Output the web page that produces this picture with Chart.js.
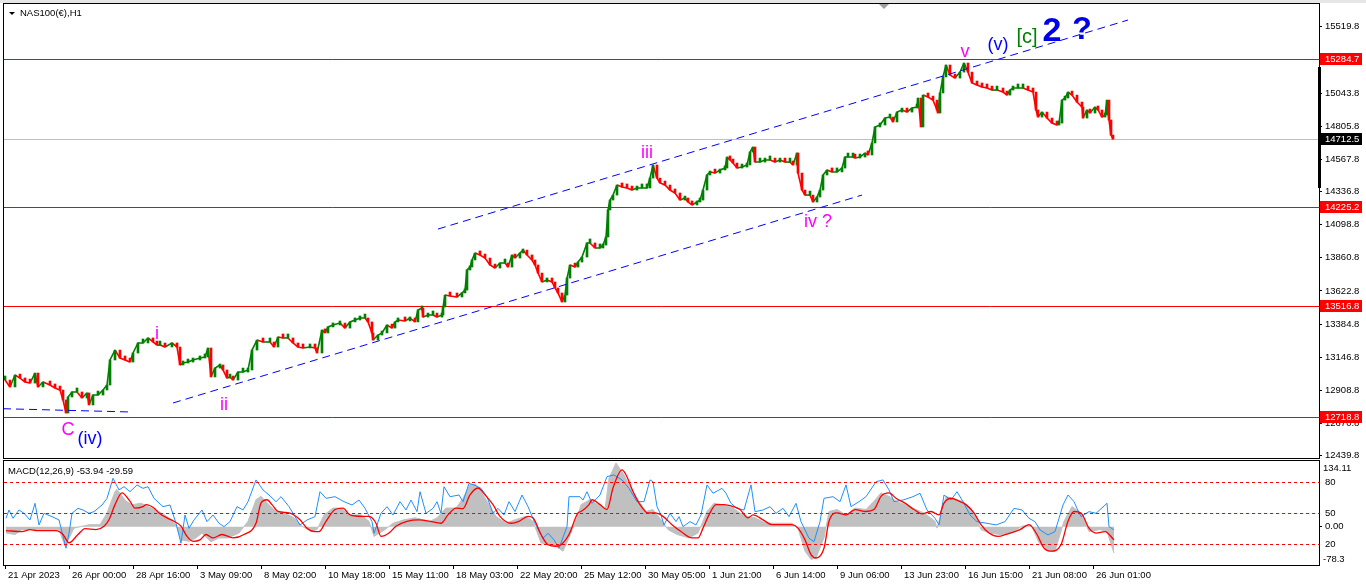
<!DOCTYPE html>
<html>
<head>
<meta charset="utf-8">
<script src="https://cdn.jsdelivr.net/npm/chart.js@4.4.0/dist/chart.umd.min.js"></script>
<style>
  html, body { margin: 0; padding: 0; background: #fff; }
  body { width: 1366px; height: 588px; position: relative; overflow: hidden; }
  #strip { position: absolute; left: 0; top: 0; width: 1366px; height: 3px; background: #e6e6e6; }
  #main { position: absolute; left: 0; top: 0; }
  #macd { position: absolute; left: 0; top: 458px; }
</style>
</head>
<body>
<div id="strip"></div>
<canvas id="main" width="1366" height="460" style="width:1366px;height:460px"></canvas>
<canvas id="macd" width="1366" height="130" style="width:1366px;height:130px"></canvas>
<script>
// H1 bars (bar index from 21 Apr 2023, close price)
const candleBars = [
  0, 5, 10, 15, 20, 25, 30, 33, 38, 45,
  50, 55, 58, 61, 63, 67, 72, 77, 82, 84,
  88, 93, 98, 102, 105, 110, 115, 120, 125, 128,
  133, 138, 143, 148, 152, 155, 160, 167, 172, 175,
  178, 183, 188, 195, 200, 203, 206, 210, 215, 218,
  222, 225, 228, 233, 238, 243, 247, 252, 258, 265,
  269, 273, 278, 283, 288, 293, 298, 305, 310, 312,
  317, 320, 323, 328, 335, 340, 345, 350, 355, 360,
  363, 367, 368, 373, 377, 382, 387, 390, 393, 400,
  405, 410, 413, 417, 418, 423, 428, 432, 437, 438,
  440, 445, 452, 457, 460, 462, 465, 467, 470, 475,
  480, 485, 490, 495, 500, 503, 507, 510, 515, 518,
  522, 527, 530, 533, 537, 542, 547, 550, 553, 557,
  560, 562, 565, 570, 573, 577, 582, 585, 590, 595,
  598, 601, 603, 605, 608, 612, 617, 622, 627, 632,
  637, 642, 645, 648, 652, 655, 660, 665, 670, 675,
  680, 683, 687, 692, 695, 698, 702, 705, 710, 715,
  720, 722, 725, 728, 732, 737, 742, 745, 748, 750,
  755, 760, 765, 770, 775, 780, 785, 788, 792, 793,
  797, 800, 805, 808, 812, 815, 818, 822, 827, 832,
  837, 840, 843, 848, 850, 855, 860, 863, 867, 870,
  875, 880, 885, 888, 892, 897, 902, 907, 912, 913,
  916, 918, 923, 928, 932, 933, 935, 938, 941, 945,
  950, 955, 959, 963, 967, 972, 977, 982, 987, 992,
  998, 1002, 1005, 1008, 1013, 1018, 1023, 1028, 1031, 1033,
  1037, 1042, 1047, 1052, 1054, 1057, 1060, 1063, 1067, 1072,
  1077, 1078, 1082, 1085, 1090, 1093, 1097, 1100, 1102, 1104,
  1106, 1108
];
const candleCloses = [
  12983, 12933, 13019, 12997, 12969, 12961, 13033, 12933, 12969, 12947,
  12926, 12911, 12840, 12746, 12861, 12897, 12897, 12854, 12890, 12804,
  12875, 12875, 12911, 12947, 13127, 13198, 13141, 13127, 13112, 13177,
  13249, 13249, 13285, 13256, 13234, 13234, 13220, 13249, 13220, 13091,
  13105, 13112, 13127, 13141, 13148, 13213, 13005, 13069, 13091, 13055,
  12997, 13005, 12983, 13040, 13040, 13055, 13198, 13270, 13256, 13256,
  13220, 13292, 13285, 13285, 13249, 13220, 13213, 13220, 13213, 13177,
  13342, 13321, 13364, 13378, 13392, 13356, 13400, 13414, 13428, 13428,
  13400, 13321, 13270, 13306, 13321, 13378, 13356, 13400, 13414, 13407,
  13428, 13400, 13486, 13500, 13435, 13450, 13450, 13435, 13450, 13507,
  13593, 13586, 13579, 13608, 13629, 13773, 13794, 13845, 13895, 13881,
  13859, 13809, 13787, 13823, 13823, 13794, 13881, 13859, 13895, 13916,
  13881, 13845, 13809, 13751, 13687, 13701, 13687, 13644, 13608, 13543,
  13593, 13715, 13809, 13794, 13830, 13866, 13967, 13967, 13931, 13931,
  13952, 14010, 14204, 14275, 14311, 14383, 14369, 14362, 14347, 14362,
  14362, 14362, 14433, 14527, 14433, 14398, 14383, 14347, 14326, 14275,
  14290, 14261, 14240, 14261, 14275, 14347, 14455, 14477, 14469, 14491,
  14505, 14584, 14563, 14541, 14505, 14512, 14527, 14620, 14656, 14548,
  14548, 14563, 14563, 14548, 14563, 14548, 14548, 14527, 14613, 14469,
  14347, 14311, 14311, 14261, 14297, 14347, 14455, 14491, 14477, 14477,
  14505, 14584, 14584, 14584, 14577, 14584, 14613, 14599, 14685, 14800,
  14814, 14864, 14871, 14836, 14907, 14922, 14907, 14936, 14943, 15008,
  14800, 15029, 15015, 14993, 14922, 14900, 15044, 15159, 15245, 15173,
  15151, 15194, 15259, 15194, 15116, 15101, 15087, 15080, 15065, 15065,
  15051, 15029, 15065, 15080, 15080, 15080, 15065, 15051, 14922, 14871,
  14907, 14864, 14828, 14814, 14828, 14993, 15008, 15051, 15029, 14979,
  14943, 14864, 14922, 14900, 14943, 14922, 14871, 14886, 14993, 14850,
  14742, 14712.5
];

const priceTicks = [12439.8, 12670.8, 12908.8, 13146.8, 13384.8, 13622.8, 13860.8,
  14098.8, 14336.8, 14567.8, 14805.8, 15043.8, 15519.8];
const redLevels = [15284.7, 14225.2, 13516.8, 12718.8];
const bidPrice = 14712.5;

// dashed channel lines [bar, price]
const trendA = [[-2, 12777], [128, 12753]];
const trendB = [[168, 12818], [857, 14311]];
const trendC = [[433, 14067], [1123, 15568]];

const dateBars = [0, 64, 128, 192, 256, 320, 384, 448, 512, 576, 640, 704, 768, 832, 896, 960, 1024, 1088];
const dateLabels = ['21 Apr 2023', '26 Apr 00:00', '28 Apr 16:00', '3 May 09:00', '8 May 02:00',
  '10 May 18:00', '15 May 11:00', '18 May 03:00', '22 May 20:00', '25 May 12:00', '30 May 05:00',
  '1 Jun 21:00', '6 Jun 14:00', '9 Jun 06:00', '13 Jun 23:00', '16 Jun 15:00', '21 Jun 08:00', '26 Jun 01:00'];

// MACD main (grey histogram) [bar, value]
const macdMainPts = [
  [1,-13],[10,-16],[17,-6],[54,-6],[60,-40],[69,-3],[84,4],[95,4],[102,28],[110,72],
  [112,76],[121,52],[128,45],[136,48],[143,41],[154,31],[164,18],[171,4],[176,-27],[184,-30],
  [191,-23],[197,-13],[206,-31],[214,-23],[223,-23],[234,-13],[243,11],[251,55],[256,62],[264,45],
  [271,31],[280,28],[289,18],[297,1],[306,-10],[312,-6],[319,24],[328,38],[336,38],[345,24],
  [356,24],[364,11],[369,-20],[380,-6],[388,7],[399,14],[410,18],[425,11],[432,18],[441,38],
  [451,38],[458,58],[465,86],[471,86],[476,72],[484,45],[491,21],[501,7],[510,14],[521,21],
  [528,11],[536,-33],[543,-37],[551,-40],[558,-50],[564,-23],[573,24],[576,45],[585,55],[593,45],
  [600,35],[604,99],[611,130],[619,106],[624,86],[634,52],[641,31],[648,35],[656,14],[663,-6],
  [672,-16],[684,-23],[693,-13],[702,31],[709,48],[717,45],[728,38],[735,28],[743,21],[750,18],
  [761,7],[772,7],[787,7],[793,-3],[800,-50],[806,-67],[811,-64],[819,-23],[824,31],[832,35],
  [841,24],[850,38],[861,35],[869,52],[876,69],[884,62],[891,52],[900,45],[911,35],[919,28],
  [930,11],[932,-3],[941,62],[950,55],[958,52],[969,28],[976,-6],[984,-13],[995,-16],[1006,-13],
  [1017,1],[1026,4],[1034,-33],[1043,-50],[1050,-50],[1059,11],[1067,41],[1076,28],[1084,-10],[1095,-6],
  [1102,-10],[1109,-54]
];
// MACD signal (red)
const macdSignalPts = [
  [1,-8],[17,-10],[25,-6],[32,-8],[51,-8],[58,-16],[64,-33],[73,-16],[80,-4],[91,-6],
  [99,1],[104,14],[110,45],[117,69],[125,52],[130,38],[138,41],[141,45],[149,38],[154,28],
  [162,18],[169,11],[176,1],[182,-20],[188,-30],[195,-27],[201,-16],[208,-23],[217,-16],[228,-23],
  [239,-16],[251,7],[256,48],[262,55],[267,45],[273,31],[284,28],[295,14],[302,-3],[310,-10],
  [314,-10],[321,11],[330,35],[338,38],[345,24],[358,21],[364,21],[371,7],[376,-20],[384,-13],
  [391,1],[402,11],[414,14],[425,11],[436,7],[443,24],[451,38],[458,37],[465,65],[473,79],
  [480,65],[488,45],[495,21],[506,7],[514,11],[523,21],[528,18],[536,-16],[543,-37],[551,-40],
  [556,-37],[564,-16],[573,28],[576,31],[584,45],[587,55],[595,45],[602,35],[608,79],[617,116],
  [621,106],[628,72],[635,45],[643,28],[650,28],[658,21],[667,4],[676,-10],[687,-23],[693,-23],
  [698,-3],[704,24],[711,45],[719,45],[728,41],[735,35],[743,18],[748,24],[758,14],[767,4],
  [778,4],[787,4],[793,-3],[800,-27],[806,-57],[811,-64],[819,-44],[824,11],[832,28],[841,24],
  [850,35],[861,31],[869,35],[876,62],[884,69],[891,58],[900,48],[909,35],[917,26],[926,31],
  [934,24],[939,48],[946,58],[954,52],[961,45],[969,28],[976,4],[984,-13],[993,-20],[1002,-15],
  [1015,-6],[1024,4],[1032,-16],[1039,-44],[1046,-50],[1056,-37],[1063,11],[1069,31],[1076,28],[1084,-3],
  [1091,-13],[1100,-10],[1109,-27]
];
// blue oscillator, 0..100
const oscPts = [
  [1,44.9],[4,52.9],[8,44.9],[14,52.9],[19,49.7],[25,43.3],[30,59.3],[34,38.5],[39,49.7],[47,46.5],
  [54,43.3],[61,16.1],[64,30.5],[67,49.7],[73,54.5],[78,52.9],[84,49.7],[89,51.3],[97,57.7],[102,64.1],
  [108,83.4],[114,72.2],[119,75.3],[125,70.5],[132,77],[138,73.7],[143,75.3],[149,64.1],[158,56.1],[165,57.7],
  [171,40.1],[176,20.9],[180,48.1],[184,35.3],[189,43.3],[197,52.9],[202,41.7],[208,48.1],[214,40.1],[219,36.9],
  [225,41.7],[232,56.1],[238,52.9],[243,60.9],[251,81.8],[258,72.2],[264,67.3],[271,60.9],[276,65.7],[284,56.1],
  [289,48.1],[295,38.5],[302,43.3],[310,46.5],[315,70.5],[321,64.1],[330,65.7],[339,60.9],[347,57.7],[354,62.5],
  [360,54.5],[367,41.7],[369,30.5],[376,49.7],[382,56.1],[388,48.1],[395,60.9],[401,52.9],[406,62.5],[412,51.3],
  [415,70.5],[421,49.7],[428,54.5],[432,60.9],[436,49.7],[439,75.3],[445,65.7],[454,67.3],[458,60.9],[464,78.5],
  [469,77],[476,73.7],[482,65.7],[488,49.7],[493,54.5],[499,48.1],[504,60.9],[510,51.3],[517,67.3],[523,56.1],
  [530,40.1],[538,25.7],[543,30.5],[549,24.1],[554,16.1],[562,36.9],[564,65.7],[575,65.7],[578,62.5],[582,70.5],
  [587,59.3],[595,67.3],[602,85],[609,86.6],[617,81.8],[624,73.7],[632,60.9],[639,60.9],[645,81.8],[648,80.1],
  [652,56.1],[656,48.1],[659,38.5],[665,49.7],[671,41.7],[674,46.5],[678,36.9],[685,41.7],[691,38.5],[696,48.1],
  [702,77],[708,69],[717,73.7],[721,69],[726,59.3],[732,54.5],[739,52.9],[746,77],[750,51.3],[758,52.9],
  [765,56.1],[771,49.7],[778,54.5],[784,46.5],[791,59.3],[796,41.7],[804,25.7],[809,22.5],[815,41.7],[819,64.1],
  [828,65.7],[835,60.9],[841,77],[846,56.1],[854,60.9],[861,65.7],[871,80.1],[878,81.8],[884,72.2],[889,60.9],
  [898,62.5],[908,65.7],[915,69],[922,52.9],[930,44.9],[934,38.5],[939,67.3],[946,62.5],[952,70.5],[958,60.9],
  [965,48.1],[972,41.7],[982,40.1],[991,38.5],[1000,41.7],[1009,54.5],[1017,52.9],[1024,44.9],[1030,41.7],[1035,33.7],
  [1043,28.9],[1050,32.1],[1058,57.7],[1063,67.3],[1069,60.9],[1072,54.5],[1076,46.5],[1084,51.3],[1091,49.7],[1102,59.3],
  [1104,36.9],[1109,33.7]
];
const oscLevels = [80, 50, 20];

const waveLabels = [
  { text: 'C', bar: 63, price: 12624, color: '#ff00ff', size: 18, bold: false },
  { text: '(iv)', bar: 85, price: 12559, color: '#0000ff', size: 18, bold: false },
  { text: 'i', bar: 152, price: 13313, color: '#ff00ff', size: 18, bold: false },
  { text: 'ii', bar: 219, price: 12804, color: '#ff00ff', size: 18, bold: false },
  { text: 'iii', bar: 642, price: 14613, color: '#ff00ff', size: 18, bold: false },
  { text: 'iv ?', bar: 813, price: 14117, color: '#ff00ff', size: 18, bold: false },
  { text: 'v', bar: 960, price: 15338, color: '#ff00ff', size: 18, bold: false },
  { text: '(v)', bar: 993, price: 15388, color: '#0000ff', size: 18, bold: false },
  { text: '[c]', bar: 1022, price: 15439, color: '#008000', size: 20, bold: false },
  { text: '2', bar: 1047, price: 15482, color: '#0000e6', size: 34, bold: true },
  { text: '?', bar: 1077, price: 15496, color: '#0000e6', size: 32, bold: true }
];

const FONT = '"Liberation Sans", Arial, sans-serif';
const AXIS_W = 47;
const UP = '#008000';
const DOWN = '#ff0000';

const candleData = candleCloses.map((c, i) => ({ x: candleBars[i], y: [i ? candleCloses[i - 1] : c, c] }));
const candleColors = candleCloses.map((c, i) => (i && c < candleCloses[i - 1]) ? DOWN : UP);
const closeLine = candleCloses.map((c, i) => ({ x: candleBars[i], y: c }));

function trendSet(pts) {
  return {
    type: 'line', data: pts, borderColor: '#0000ff', borderWidth: 1, borderDash: [8, 5],
    pointRadius: 0, order: 1
  };
}

function hLine(ctx, a, py) {
  ctx.beginPath();
  ctx.moveTo(a.left, py);
  ctx.lineTo(a.right, py);
  ctx.stroke();
}

function axisBox(ctx, a, py, text, bg) {
  ctx.fillStyle = bg;
  ctx.fillRect(a.right + 1, py - 6, 42, 12);
  ctx.fillStyle = '#fff';
  ctx.textAlign = 'left';
  ctx.textBaseline = 'middle';
  ctx.fillText(text, a.right + 6, py);
}

const mainDeco = {
  id: 'mainDeco',
  beforeDatasetsDraw(chart) {
    const { ctx, chartArea: a, scales: { y } } = chart;
    ctx.save();
    ctx.lineWidth = 1;
    ctx.strokeStyle = '#c0c0c0';
    hLine(ctx, a, Math.round(y.getPixelForValue(bidPrice)) + 0.5);
    ctx.strokeStyle = '#ff0000';
    redLevels.forEach(v => hLine(ctx, a, Math.round(y.getPixelForValue(v)) + 0.5));
    ctx.restore();
  },
  afterDatasetsDraw(chart) {
    const { ctx, scales: { x, y } } = chart;
    ctx.save();
    ctx.textAlign = 'center';
    ctx.textBaseline = 'middle';
    waveLabels.forEach(l => {
      ctx.font = (l.bold ? 'bold ' : '') + l.size + 'px ' + FONT;
      ctx.fillStyle = l.color;
      ctx.fillText(l.text, x.getPixelForValue(l.bar), y.getPixelForValue(l.price));
    });
    ctx.restore();
  },
  afterDraw(chart) {
    const { ctx, chartArea: a, scales: { y } } = chart;
    ctx.save();
    ctx.strokeStyle = '#000';
    ctx.lineWidth = 1;
    ctx.strokeRect(a.left - 0.5, a.top - 0.5, a.right - a.left + 1, a.bottom - a.top + 1);
    // scroll marker on the price axis
    ctx.fillStyle = '#000';
    ctx.fillRect(a.right - 1, 67, 3, 121);
    // chart shift triangle
    ctx.fillStyle = '#a0a0a0';
    ctx.beginPath();
    ctx.moveTo(879, a.top);
    ctx.lineTo(889, a.top);
    ctx.lineTo(884, a.top + 5);
    ctx.closePath();
    ctx.fill();
    ctx.font = '9.5px ' + FONT;
    redLevels.forEach(v => axisBox(ctx, a, Math.round(y.getPixelForValue(v)), v.toFixed(1), '#ff0000'));
    axisBox(ctx, a, Math.round(y.getPixelForValue(bidPrice)), bidPrice.toFixed(1), '#000');
    // title
    ctx.fillStyle = '#000';
    ctx.beginPath();
    ctx.moveTo(9, 12);
    ctx.lineTo(15, 12);
    ctx.lineTo(12, 15);
    ctx.closePath();
    ctx.fill();
    ctx.textAlign = 'left';
    ctx.textBaseline = 'middle';
    ctx.fillText('NAS100(\u20ac),H1', 20, 13);
    ctx.restore();
  }
};

new Chart(document.getElementById('main'), {
  type: 'bar',
  data: {
    datasets: [
      {
        type: 'bar', data: candleData, backgroundColor: candleColors, barThickness: 2,
        minBarLength: 4, grouped: false, order: 2
      },
      {
        type: 'line', data: closeLine, borderWidth: 1.6, pointRadius: 0, order: 3,
        borderColor: UP,
        segment: { borderColor: c => c.p1.parsed.y < c.p0.parsed.y ? DOWN : UP }
      },
      trendSet(trendA), trendSet(trendB), trendSet(trendC)
    ]
  },
  options: {
    responsive: false,
    devicePixelRatio: 1,
    animation: false,
    events: [],
    layout: { padding: { left: 4, top: 4, right: 0, bottom: 2 } },
    plugins: { legend: { display: false }, tooltip: { enabled: false } },
    scales: {
      x: { type: 'linear', min: -1, max: 1314, offset: false, display: false },
      y: {
        type: 'linear', position: 'right', min: 12423, max: 15683,
        afterBuildTicks: s => { s.ticks = priceTicks.map(v => ({ value: v })); },
        afterFit: s => { s.width = AXIS_W; s.paddingTop = 0; s.paddingBottom = 0; },
        ticks: { callback: v => v.toFixed(1), color: '#000', padding: 3, font: { family: FONT, size: 9.5 } },
        grid: { drawOnChartArea: false, tickLength: 3, color: '#000' },
        border: { display: false }
      }
    }
  },
  plugins: [mainDeco]
});

const macdDeco = {
  id: 'macdDeco',
  afterDatasetsDraw(chart) {
    const { ctx, chartArea: a, scales: { yo } } = chart;
    ctx.save();
    ctx.strokeStyle = '#ff0000';
    ctx.lineWidth = 1;
    ctx.setLineDash([3, 3]);
    oscLevels.forEach(v => hLine(ctx, a, Math.round(yo.getPixelForValue(v)) + 0.5));
    ctx.restore();
  },
  afterDraw(chart) {
    const { ctx, chartArea: a, scales: { yo } } = chart;
    ctx.save();
    ctx.strokeStyle = '#000';
    ctx.lineWidth = 1;
    ctx.strokeRect(a.left - 0.5, a.top - 0.5, a.right - a.left + 1, a.bottom - a.top + 1);
    ctx.font = '9.5px ' + FONT;
    ctx.fillStyle = '#000';
    ctx.textAlign = 'left';
    ctx.textBaseline = 'middle';
    oscLevels.forEach(v => ctx.fillText(String(v), a.right + 6, Math.round(yo.getPixelForValue(v))));
    ctx.fillText('134.11', a.right + 4, a.top + 7);
    ctx.fillText('-78.3', a.right + 4, a.bottom - 6);
    ctx.fillText('MACD(12,26,9) -53.94 -29.59', 8, a.top + 10);
    ctx.restore();
  }
};

new Chart(document.getElementById('macd'), {
  type: 'line',
  data: {
    datasets: [
      {
        data: macdMainPts, yAxisID: 'ym', fill: 'origin', backgroundColor: '#c0c0c0',
        borderColor: '#c0c0c0', borderWidth: 1, pointRadius: 0, order: 3
      },
      {
        data: oscPts, yAxisID: 'yo', borderColor: '#1e90ff', borderWidth: 1, pointRadius: 0, order: 2
      },
      {
        data: macdSignalPts, yAxisID: 'ym', borderColor: '#ff0000', borderWidth: 1.3,
        pointRadius: 0, cubicInterpolationMode: 'monotone', order: 1
      }
    ]
  },
  options: {
    responsive: false,
    devicePixelRatio: 1,
    animation: false,
    events: [],
    layout: { padding: { left: 4, top: 3, right: 0, bottom: 2 } },
    plugins: { legend: { display: false }, tooltip: { enabled: false } },
    scales: {
      x: {
        type: 'linear', min: -1, max: 1314, offset: false,
        afterBuildTicks: s => { s.ticks = dateBars.map(v => ({ value: v })); },
        afterFit: s => { s.height = 21; s.paddingLeft = 0; s.paddingRight = 0; },
        ticks: {
          autoSkip: false, maxRotation: 0, align: 'start', labelOffset: 3, padding: 1,
          callback: v => dateLabels[dateBars.indexOf(v)], color: '#000',
          font: { family: FONT, size: 9.5 }
        },
        grid: { drawOnChartArea: false, tickLength: 4, color: '#000' },
        border: { display: false }
      },
      ym: {
        type: 'linear', position: 'right', min: -78.3, max: 134.11,
        afterBuildTicks: s => { s.ticks = [{ value: 0 }]; },
        afterFit: s => { s.width = AXIS_W; s.paddingTop = 0; s.paddingBottom = 0; },
        ticks: { callback: () => '0.00', color: '#000', padding: 3, font: { family: FONT, size: 9.5 } },
        grid: { drawOnChartArea: false, tickLength: 3, color: '#000' },
        border: { display: false }
      },
      yo: { type: 'linear', display: false, min: 0, max: 100 }
    }
  },
  plugins: [macdDeco]
});
</script>
</body>
</html>
